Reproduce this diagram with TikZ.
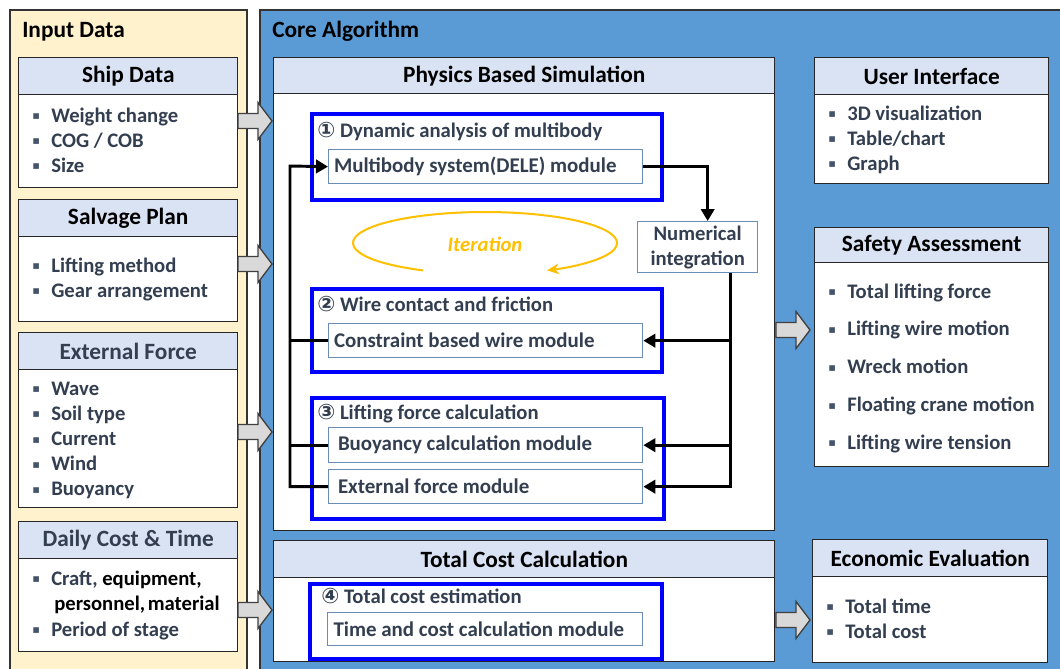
\documentclass[tikz,border=0pt]{standalone}
\usepackage{fontspec}
\setmainfont{Carlito}
\newfontfamily\symfont{DejaVu Sans}
\usetikzlibrary{arrows.meta,calc}

\definecolor{slate}{HTML}{333F50}
\definecolor{bulc}{HTML}{44546A}
\definecolor{hdrfill}{HTML}{DAE3F3}
\definecolor{cream}{HTML}{FFF2CC}
\definecolor{coreblue}{HTML}{5B9BD5}
\definecolor{grpblue}{HTML}{0000FF}
\definecolor{modblue}{HTML}{6A8DB8}
\definecolor{iterc}{HTML}{FFC000}
\definecolor{arrgray}{HTML}{D9D9D9}

% small square bullet followed by a fixed gap
\newcommand\bul{\makebox[14.25pt][l]{\raisebox{1.8pt}{\textcolor{bulc}{\symfont\fontsize{8.5}{8.5}\selectfont ▪}}}}
\newcommand\circnum[1]{{\symfont\fontsize{16}{16}\selectfont\raisebox{-0.5pt}{#1}}}
% left-aligned module label of fixed width
\newcommand\modtext[1]{\makebox[227.5pt][l]{#1}}
% grey block arrow, tip at (#1,#2)
\newcommand\blockarr[2]{\draw[barrow, shift={(#1,#2)}] (-34,-7.5) -- (-14,-7.5) -- (-14,-18.5) -- (0,0) -- (-14,18.5) -- (-14,7.5) -- (-34,7.5) -- cycle;}

\begin{document}
\begin{tikzpicture}[x=0.75pt,y=-0.75pt,
  sz/.style 2 args={minimum width=#1*0.75pt, minimum height=#2*0.75pt},
  panel/.style={draw=black!80, line width=1pt},
  hdr/.style={draw=black!85, fill=hdrfill, line width=1.1pt, anchor=north west, inner sep=0,
    font=\fontsize{17.5}{21}\selectfont\bfseries},
  body/.style={draw=black!85, fill=white, line width=1.1pt, anchor=north west, inner sep=0},
  item/.style={anchor=base west, inner sep=0, text=slate, font=\fontsize{15.5}{18}\selectfont\bfseries},
  grp/.style={draw=grpblue, line width=3pt, anchor=north west, inner sep=0},
  grptitle/.style={anchor=base west, inner sep=0, text=slate, font=\fontsize{15.5}{18}\selectfont\bfseries},
  module/.style={draw=modblue, line width=1pt, fill=white, anchor=north west, inner xsep=4pt, inner ysep=0,
    text=slate, font=\fontsize{15.7}{18}\selectfont\bfseries},
  conn/.style={draw=black, line width=2.2pt},
  tip/.style={-{Triangle[length=9pt,width=10pt]}},
  iter/.style={draw=iterc, line width=1.5pt, -{Stealth[length=9pt,width=8pt]}},
  barrow/.style={draw=black!75, fill=arrgray, line width=1pt, line join=miter},
  title/.style={anchor=base west, inner sep=0, font=\fontsize{17.5}{21}\selectfont\bfseries}
]
\useasboundingbox (0,0) rectangle (1060,668);
\fill[white] (0,0) rectangle (1060,668);

% ---------- panels ----------
\draw[panel, fill=cream] (10,10) rectangle (247,690);
\draw[panel, fill=coreblue] (260,10) rectangle (1080,690);
\node[title] (tin) at (22,37) {Input Data};
\node[title] (tcore) at (272,37) {Core Algorithm};

% ---------- input data ----------
\node[hdr, sz={219}{37}] (shipH) at (18,57) {Ship Data};
\node[body, sz={219}{93}] (shipB) at (18,94) {};
\foreach \t [count=\i] in {Weight change, COG / COB, Size}
  \node[item] (ship\i) at (32,{122+25*(\i-1)}) {\bul \t};

\node[hdr, sz={219}{37}] (salvH) at (18,199) {Salvage Plan};
\node[body, sz={219}{85}] (salvB) at (18,236) {};
\foreach \t [count=\i] in {Lifting method, Gear arrangement}
  \node[item] (salv\i) at (32,{272+25*(\i-1)}) {\bul \t};

\node[hdr, sz={219}{37}, text=slate] (extH) at (18,332) {External Force};
\node[body, sz={219}{138}] (extB) at (18,369) {};
\foreach \t [count=\i] in {Wave, Soil type, Current, Wind, Buoyancy}
  \node[item] (ext\i) at (32,{395+25.2*(\i-1)}) {\bul \t};

\node[hdr, sz={219}{37}, text=slate] (costH) at (18,521) {Daily Cost \& Time};
\node[body, sz={219}{93}] (costB) at (18,558) {};
\node[item] (cost1) at (32,585) {\bul Craft, \textcolor{black}{equipment,}};
\node[item, text=black] (cost2) at (54,610) {personnel,\hspace{2pt}material};
\node[item] (cost3) at (32,636) {\bul Period of stage};

% ---------- physics based simulation ----------
\node[hdr, sz={501}{36}] (psH) at (273,57) {Physics Based Simulation};
\node[body, sz={501}{437}] (psB) at (273,93) {};

\node[grp, sz={350}{86}] (g1) at (310,112) {};
\node[grptitle] (g1t) at (317,137) {\circnum{①} Dynamic analysis of multibody};
\node[module, sz={314}{34}] (mb) at (328,149) {\modtext{Multibody system(DELE) module}};

\node[draw=modblue, line width=1pt, fill=white, anchor=north west, inner sep=0, sz={120}{51},
  align=center, text=slate, font=\fontsize{15.5}{18.75}\selectfont\bfseries] (ni) at (637,221) {Numerical\\integration};

\node[grp, sz={350}{83}] (g2) at (310,287) {};
\node[grptitle] (g2t) at (317,311) {\circnum{②} Wire contact and friction};
\node[module, sz={314}{34}] (cw) at (328,323) {\modtext{Constraint based wire module}};

\node[grp, sz={352}{121}] (g3) at (310,396) {};
\node[grptitle] (g3t) at (317,419) {\circnum{③} Lifting force calculation};
\node[module, sz={314}{35}] (bu) at (328,427) {\modtext{\hspace*{3pt}Buoyancy calculation module}};
\node[module, sz={314}{34}] (ef) at (328,469) {\modtext{\hspace*{3pt}External force module}};

% iteration loop
\coordinate (itc) at (485,243);
\draw[iter] ($(itc)+(118:132 and 31)$) arc[start angle=118, end angle=422, x radius=132, y radius=31];
\node[text=iterc, font=\fontsize{15.5}{18}\selectfont\bfseries\itshape] (itt) at (485,244) {Iteration};

% connectors
\draw[conn, tip] (mb.east) -| ($(ni.north)+(10,0)$);
\coordinate (rt) at ($(ni.south)+(33,0)$);
\draw[conn, tip] (rt) |- (ef.east);
\draw[conn, tip] (rt |- cw.east) -- (cw.east);
\draw[conn, tip] (rt |- bu.east) -- (bu.east);
\coordinate (lx) at (290,166);
\draw[conn, tip] (ef.west) -| (lx) -- (mb.west);
\draw[conn] (cw.west) -- (cw.west -| lx);
\draw[conn] (bu.west) -- (bu.west -| lx);

% ---------- total cost calculation ----------
\node[hdr, sz={501}{37}] (tcH) at (273,540) {Total Cost Calculation};
\node[body, sz={501}{84}] (tcB) at (273,577) {};
\node[grp, sz={352}{75}] (g4) at (308,582) {};
\node[grptitle] (g4t) at (321,603) {\circnum{④} Total cost estimation};
\node[module, sz={315}{33}] (tm) at (327,612) {\modtext{Time and cost calculation module}};

% ---------- outputs ----------
\node[hdr, sz={234}{37}] (uiH) at (814,57) {User Interface};
\node[body, sz={234}{89}] (uiB) at (814,94) {};
\foreach \t [count=\i] in {3D visualization, Table/chart, Graph}
  \node[item] (ui\i) at (828,{120+25*(\i-1)}) {\bul \t};

\node[hdr, sz={234}{35}] (saH) at (814,227) {Safety Assessment};
\node[body, sz={234}{204}] (saB) at (814,262) {};
\foreach \t [count=\i] in {Total lifting force, Lifting wire motion, Wreck motion, Floating crane motion, Lifting wire tension}
  \node[item] (sa\i) at (828,{298+37.8*(\i-1)}) {\bul \t};

\node[hdr, sz={235}{37}] (eeH) at (812,539) {Economic Evaluation};
\node[body, sz={235}{86}] (eeB) at (812,576) {};
\foreach \t [count=\i] in {Total time, Total cost}
  \node[item] (ee\i) at (826,{613+25*(\i-1)}) {\bul \t};

% ---------- block arrows ----------
\blockarr{272}{121}
\blockarr{272}{264}
\blockarr{272}{432}
\blockarr{272}{610}
\blockarr{810}{330}
\blockarr{810}{620}
\end{tikzpicture}
\end{document}
